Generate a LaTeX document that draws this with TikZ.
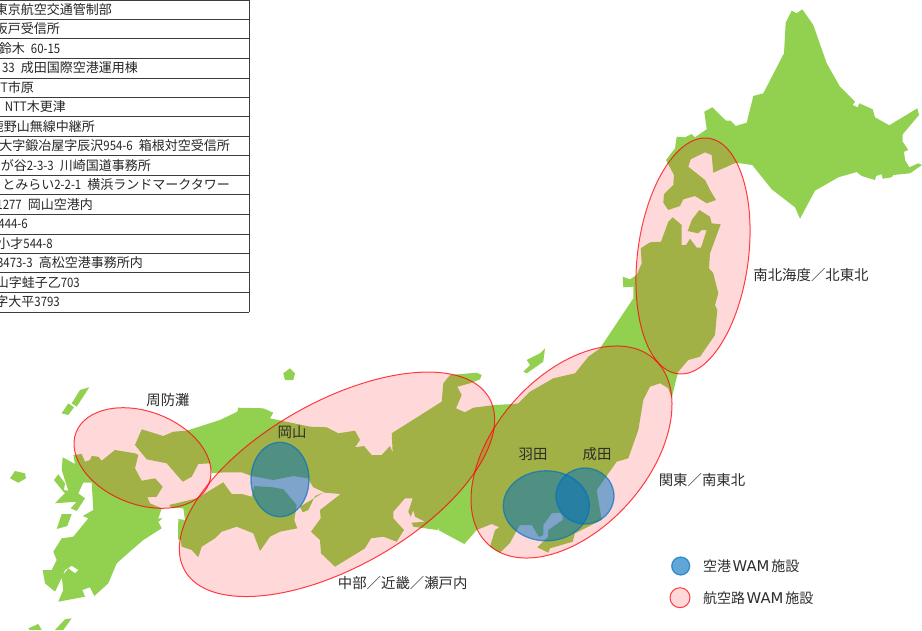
\documentclass[tikz,border=0pt]{standalone}
\usepackage{fontspec}
\setmainfont{Noto Sans CJK JP}
\newfontfamily\wamfont{DejaVu Sans}
\newfontfamily\halffont[FakeStretch=0.88]{Noto Sans CJK JP}
\definecolor{landgreen}{RGB}{146,208,80}
\definecolor{ovalred}{RGB}{255,0,10}
\definecolor{ovalblue}{RGB}{0,112,192}
\definecolor{tabline}{RGB}{60,60,60}
\definecolor{labelgrey}{RGB}{45,45,45}
\newcommand{\halfsp}{\hspace{6pt}}
\newcommand{\ha}[1]{{\halffont #1}}
\newcommand{\wam}{\hspace{1.5pt}{\wamfont\fontsize{14.8}{16}\selectfont WAM}\hspace{2pt}}
\tikzset{
  land/.style={fill=landgreen,draw=none},
  redoval/.style={fill=ovalred,fill opacity=.15,draw=ovalred,draw opacity=.75,line width=1pt},
  blueoval/.style={fill=ovalblue,fill opacity=.5,draw=ovalblue,draw opacity=.65,line width=1.3pt},
  maplabel/.style={font=\fontsize{14.4}{16}\selectfont,text=labelgrey,inner sep=0pt},
  legendlabel/.style={maplabel,anchor=west,font=\fontsize{14}{16}\selectfont},
  rowtext/.style={font=\fontsize{13}{15}\selectfont,text=black!85,inner sep=0pt,anchor=east},
  tabrule/.style={draw=tabline,line width=1pt}
}
\begin{document}
\begin{tikzpicture}[x=1pt,y=-1pt]
\useasboundingbox (0,0) rectangle (922,630);
\fill[white] (0,0) rectangle (922,630);

% Hokkaido with the Tsugaru strait shore
\fill[land] plot coordinates {(791.7,10.7) (796.7,13.3) (802.3,9.3) (813.3,25) (826.7,63.3) (840,86.7) (855,101.7) (852.7,105) (857.7,107.3) (859.3,103.3) (872.7,109.3) (875,117.3) (889.3,125.3) (917.3,108.3) (919,115) (902.7,134.3) (902.7,141.7) (908.3,150) (904,151.7) (905,160) (909.3,167.3) (918.3,163.3) (922,165) (910,173.3) (893.3,175) (891.7,177.3) (882.7,178.7) (881.7,174.3) (876,176) (875,180) (861.7,176) (856.7,172) (838.3,177.3) (815,190.7) (800,218.7) (795,207.3) (771.7,189.3) (752.3,165) (736,162.7) (713.3,172.7) (711.7,155) (705,152.3) (690.7,159.3) (688.3,166.7) (705,180) (710,190) (716,200) (706.7,203.3) (695,196) (683.3,199.3) (680,206) (668.3,210) (663.3,202.7) (664,194) (673.3,185) (674,175) (666,160) (675,148.3) (676.7,136.7) (685,137.3) (691.7,134) (695,137.3) (706.7,129.3) (704.3,111.7) (712.3,107.3) (726,120.7) (730.7,120.7) (735.7,126) (746.7,122.7) (753.3,96) (763.3,93.3) (784,53.3) (785.7,22.7)} -- cycle;

% Honshu
\fill[land] plot coordinates {(672.7,217.3) (681.7,225) (681.7,245) (686,245) (690,238.7) (696.7,247.7) (701,247.7) (706.7,230) (701.7,230) (698.3,233.3) (687.7,231) (691.7,220) (699.3,210) (710,216.7) (711.7,223.3) (720.7,224.3) (710,253.3) (709,268.3) (713.3,273.3) (718.3,293.3) (715,305) (717.3,310) (715,335) (700,356.7) (688.3,360) (678.3,371.7) (677.3,375) (671.7,398) (668,388) (660,383.3) (650,386.7) (643.3,400) (638.3,430) (628.3,458.3) (616.7,461.7) (596.7,490) (601.7,520) (575,533.3) (572.7,541.7) (550,548.3) (548.3,552.7) (537.3,547.3) (548,537) (548.3,530) (562.7,520) (562.7,516) (560,512.7) (551.7,513.3) (543.3,525) (543.3,535) (539,537) (531.7,525) (520,525) (516,531.7) (510,543) (500,552.7) (490,546.7) (495,530) (499.3,527.3) (491.7,524) (476.7,530) (464.3,544) (438.3,530) (439.3,526.7) (437.3,530) (413.3,526.7) (411.7,522.7) (425,521.7) (415,516.7) (413.3,510) (410.7,516.7) (408.3,511.7) (412.7,498.3) (405,498.3) (393.3,511.7) (393.3,518.3) (404,530) (396.7,541.7) (383.3,536.7) (371,538.3) (365,548.3) (335,566.7) (321,553.3) (320,540) (311,531.7) (320.7,518.3) (320,510) (340.7,494) (325,492.7) (313,487) (309,480) (307.7,478.3) (293.3,476) (273.3,480) (251.7,476) (241.7,472.3) (225,472.3) (211.7,473.3) (210,463.3) (198.3,464) (191.7,476.7) (182.7,481.7) (166.7,463.3) (146.7,459.3) (135,445) (141.7,429.3) (163.3,436) (173.3,431.7) (186.7,430.7) (220,420) (237.3,411.7) (238.3,407.7) (263.3,408.3) (273.3,412.7) (270,418.3) (310,426.7) (326.7,427.3) (338.3,433.3) (355,430.7) (360,440) (355,447.3) (364,446) (371.7,455) (381.7,455) (390,446) (392.7,452.7) (391.7,433.3) (441.7,401.7) (443.3,383.3) (450,375) (476.7,372.7) (481.7,375) (480,379.3) (470,383.3) (457.3,386.7) (461.7,395) (456,408.3) (465,412.3) (473.3,407.7) (495,405) (513.3,404) (518.3,403.3) (530,391.7) (553.3,378.3) (575,373.3) (588.3,356.7) (600,348.3) (620,318.3) (633.3,298.3) (633.3,286.7) (623.3,287.3) (622.7,276.7) (630,279.3) (636.7,275) (641.7,263.3) (640.7,248.3) (650,242.3) (661,241.7) (668.3,221.7)} -- cycle;

% Shikoku
\fill[land] plot coordinates {(169,505) (197,498.3) (223.3,482.3) (231.7,494) (241.7,494) (251.7,496.7) (254.3,486) (273.3,487.3) (283.3,489.3) (296.7,505) (294.3,520) (297.3,528.3) (280,531.7) (270,536.7) (260,551) (253.3,533.3) (236.7,526.7) (221.7,531.7) (215,538.3) (201.7,546.7) (198.3,557.3) (191.7,550) (181.7,546.7) (180.7,540) (178,539.3) (178.3,519) (185,520) (183.3,508.3) (172,508)} -- cycle;
% Awaji
\fill[land] plot coordinates {(300,506.7) (323.3,492.7) (315,496) (308.3,510) (302.7,512.3)} -- cycle;

% Kyushu
\fill[land] plot coordinates {(62.7,457.3) (75,464) (73.3,455) (81.7,454) (85,461.7) (90,460) (91.7,456) (98.3,456.7) (101.7,460.7) (115,450) (135,453.3) (138.3,455) (135,468.3) (141.7,480.7) (155,478.3) (162.7,486.7) (156.7,496.7) (147.3,497.3) (150,503.3) (161.7,508.3) (158.3,518.3) (162.7,518.3) (158.3,521.7) (161.7,528.3) (143.3,540) (131.7,550) (116.7,563.3) (108.3,583.3) (94.3,596) (90,587.3) (82.3,590) (85,596.7) (58.3,601.7) (63.3,590) (61.7,576.7) (68.3,568.3) (75,573.3) (78.3,570) (71.7,565.7) (65,570) (61.7,578) (55,591.7) (45,583.3) (42.7,570) (51.7,570) (56.7,560) (53.3,551.7) (61.7,538.3) (73.3,536.7) (88.3,518.3) (82.7,516) (93.3,510) (91.7,482.7) (83.3,482.7) (78.3,493.3) (85,498.3) (76.7,511) (70.7,508.3) (76.7,501.7) (55,503.3) (65,493) (62,490) (54,480) (58.3,474.3) (65,483.3) (64,490) (68.3,490.7) (61.7,470)} -- cycle;
% Amakusa
\fill[land] plot coordinates {(61.7,514) (71.7,514) (67.3,526) (56.7,529)} -- cycle;
% Small islands
\fill[land] plot coordinates {(545,348.3) (543.3,361.7) (526.7,373.3) (523.3,371.7) (530,365) (526.7,360) (540,353.3)} -- cycle;
\fill[land] plot coordinates {(283.3,373.3) (290,368.3) (295,373.3) (293.3,380) (285,380)} -- cycle;
\fill[land] plot coordinates {(89.3,387.3) (80,390) (71.7,403.3) (76.7,406.7)} -- cycle;
\fill[land] plot coordinates {(68.3,403.3) (74,407.3) (68.3,415) (61.7,413.3)} -- cycle;
\fill[land] plot coordinates {(10,478.3) (15,471) (25,473.3) (26,478.3) (18.3,482.7)} -- cycle;
\fill[land] plot coordinates {(28.3,628.3) (38.3,624) (41.7,630) (30,630)} -- cycle;
\fill[land] plot coordinates {(55,630) (65,619.3) (71.7,618.3) (63.3,630)} -- cycle;

% Red coverage ovals
\path[redoval,shift={(142.5,458)},rotate=-21] (0,0) circle [x radius=71.2pt,y radius=46.4pt];
\path[redoval,shift={(337,484.3)},rotate=29.5] (0,0) circle [x radius=175pt,y radius=82.6pt];
\path[redoval,shift={(571.5,452)},rotate=48.4] (0,0) circle [x radius=124.4pt,y radius=76.6pt];
\path[redoval,shift={(693,256)},rotate=82.5] (0,0) circle [x radius=118.8pt,y radius=55.4pt];

% Blue airport ovals
\path[blueoval] (280,479.5) circle [x radius=29pt,y radius=37.2pt];
\path[blueoval] (546.3,505.8) circle [x radius=43pt,y radius=35pt];
\path[blueoval] (585,496) circle [x radius=29pt,y radius=28pt];

% Map labels
\node[maplabel] (suo) at (168,400) {周防灘};
\node[maplabel] (okayama) at (292,432) {岡山};
\node[maplabel] (haneda) at (533,454) {羽田};
\node[maplabel] (narita) at (597,454) {成田};
\node[maplabel] (chubu) at (402.7,583) {中部／近畿／瀬戸内};
\node[maplabel] (kanto) at (702,480) {関東／南東北};
\node[maplabel] (north) at (811,275) {南北海度／北東北};

% Legend
\path[blueoval,fill opacity=.62] (680.7,566) circle [radius=9pt];
\path[redoval] (680,597.7) circle [radius=10pt];
\node[legendlabel] (legA) at (703,566) {空港\wam 施設};
\node[legendlabel] (legB) at (703,598) {航空路\wam 施設};

% Table
\foreach \yy in {0,19,38,58,78,97,116.5,136,155.5,175,194.5,214,234,253,272.5,292,312}
  \draw[tabrule] (0,\yy) -- (249,\yy);
\draw[tabrule] (249,0) -- (249,312);
\node[rowtext] (r1) at (112,9.5) {東京航空交通管制部};
\node[rowtext] (r2) at (60,29) {阪戸受信所};
\node[rowtext] (r3) at (60.5,48.5) {鈴木\halfsp\ha{60-15}};
\node[rowtext] (r4) at (138,68) {\ha{33}\halfsp 成田国際空港運用棟};
\node[rowtext] (r5) at (34,87.5) {\ha{TT}市原};
\node[rowtext] (r6) at (66,107) {\ha{9}\halfsp\ha{NTT}木更津};
\node[rowtext] (r7) at (95,126.5) {鹿野山無線中継所};
\node[rowtext] (r8) at (230,146) {大字鍛冶屋字辰沢\ha{954-6}\halfsp 箱根対空受信所};
\node[rowtext] (r9) at (151,165.5) {が谷\ha{2-3-3}\halfsp 川崎国道事務所};
\node[rowtext] (r10) at (230,185) {とみらい\ha{2-2-1}\halfsp 横浜ランドマークタワー};
\node[rowtext] (r11) at (93,204.5) {\ha{1277}\halfsp 岡山空港内};
\node[rowtext] (r12) at (28,224) {\ha{444-6}};
\node[rowtext] (r13) at (53,243.5) {小才\ha{544-8}};
\node[rowtext] (r14) at (143,263) {\ha{3473-3}\halfsp 高松空港事務所内};
\node[rowtext] (r15) at (80,282.5) {山字蛙子乙\ha{703}};
\node[rowtext] (r16) at (60,302) {字大平\ha{3793}};
\end{tikzpicture}
\end{document}
